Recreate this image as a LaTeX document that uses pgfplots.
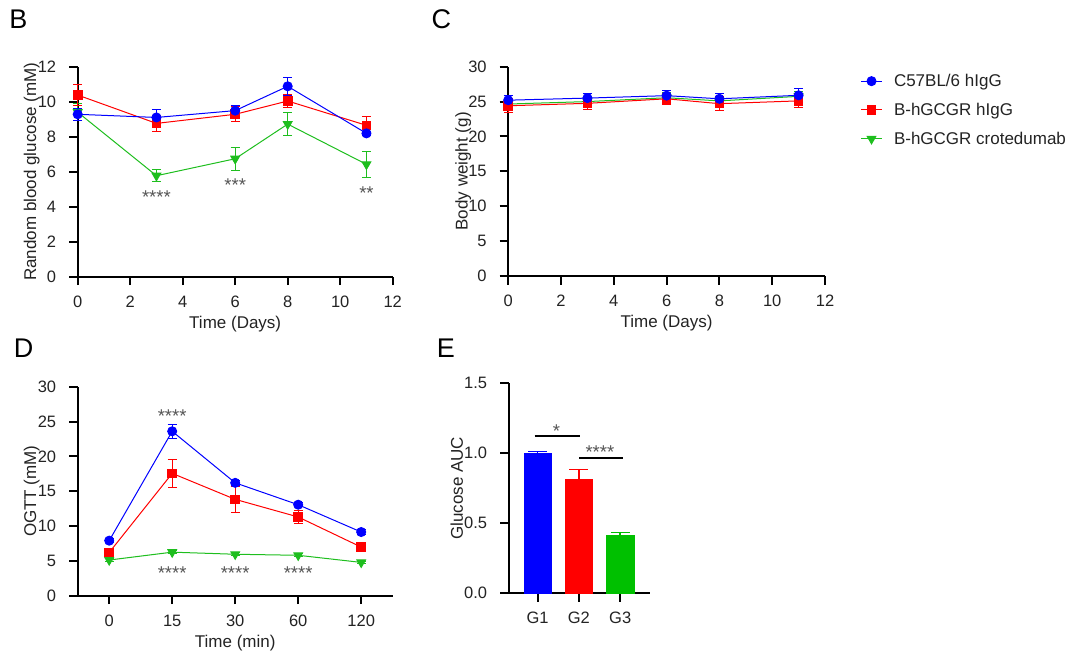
\documentclass[border=0pt]{standalone}
\usepackage{fontspec}
\setmainfont{Liberation Sans}
\usepackage{pgfplots}
\pgfplotsset{compat=1.18}
\definecolor{cblue}{RGB}{0,0,255}
\definecolor{cred}{RGB}{255,0,0}
\definecolor{cgreen}{RGB}{30,190,30}
\definecolor{cbar}{RGB}{0,192,0}
\definecolor{txt}{RGB}{35,35,35}
\definecolor{star}{RGB}{85,85,85}
\tikzset{stars/.style={font=\fontsize{18.5}{21}\selectfont, text=star, yshift=-4pt}}
\pgfplotsset{
  gp/.style={
    scale only axis,
    anchor=south west,
    axis lines*=left,
    axis line style={line width=2pt,black},
    tick align=outside,
    major tick length=8.5pt,
    tick style={line width=2pt,black},
    minor tick num=0,
    clip=false,
    ticklabel style={font=\fontsize{16.5}{19}\selectfont, text=txt},
    xticklabel style={yshift=-7pt},
    yticklabel style={xshift=-9.5pt},
    label style={font=\fontsize{17}{20}\selectfont, text=txt},
    /pgf/number format/assume math mode=true,
    xlabel style={at={(axis description cs:0.5,0)},anchor=center,yshift=-47pt},
  },
  sblue/.style={color=cblue, line width=1pt, mark=*, mark size=4.5pt, mark options={solid,fill=cblue,draw=cblue},
    error bars/.cd, y dir=both, y explicit, error bar style={cblue,line width=1pt}, error mark options={cblue,line width=1pt,mark size=4.5pt,rotate=90}},
  sred/.style={color=cred, line width=1pt, mark=square*, mark size=4.3pt, mark options={solid,fill=cred,draw=cred},
    error bars/.cd, y dir=both, y explicit, error bar style={cred,line width=1pt}, error mark options={cred,line width=1pt,mark size=4.5pt,rotate=90}},
  sgreen/.style={color=cgreen, line width=1pt, mark=triangle*, mark size=5pt, mark options={solid,fill=cgreen,draw=cgreen,rotate=180},
    error bars/.cd, y dir=both, y explicit, error bar style={cgreen,line width=1pt}, error mark options={cgreen,line width=1pt,mark size=4.5pt,rotate=90}},
}
\begin{document}
\begin{tikzpicture}
\path[use as bounding box] (0pt,0pt) rectangle (1082pt,657pt);

% Panel letters
\node[font=\fontsize{27}{30}\selectfont] at (18.3pt,637.3pt) {B};
\node[font=\fontsize{27}{30}\selectfont] at (441.4pt,637.3pt) {C};
\node[font=\fontsize{27}{30}\selectfont] at (23.7pt,308.7pt) {D};
\node[font=\fontsize{27}{30}\selectfont] at (445.8pt,308.7pt) {E};

% ---------------- B
\begin{axis}[gp, at={(77.7pt,380.3pt)}, width=315pt, height=210pt,
  xmin=0, xmax=12, ymin=0, ymax=12,
  xtick={0,2,...,12}, ytick={0,2,...,12},
  xlabel={Time (Days)}, ylabel={Random blood glucose (mM)},
  ylabel style={at={(axis description cs:0,0.5)},anchor=center,yshift=46pt}]
\addplot[sgreen] coordinates {(0,9.4) +- (0,0.5) (3,5.77) +- (0,0.33) (6,6.74) +- (0,0.65) (8,8.72) +- (0,0.68) (11,6.42) +- (0,0.74)};
\addplot[sred] coordinates {(0,10.38) +- (0,0.6) (3,8.76) +- (0,0.47) (6,9.28) +- (0,0.42) (8,10.04) +- (0,0.35) (11,8.65) +- (0,0.5)};
\addplot[sblue] coordinates {(0,9.28) +- (0,0.35) (3,9.1) +- (0,0.48) (6,9.49) +- (0,0.28) (8,10.88) +- (0,0.5) (11,8.19) +- (0,0.12)};
\node[stars] at (axis cs:3,4.76) {****};
\node[stars] at (axis cs:6,5.47) {***};
\node[stars] at (axis cs:11,4.99) {**};
\end{axis}

% ---------------- C
\begin{axis}[gp, at={(508.2pt,381pt)}, width=316.8pt, height=209.3pt,
  xmin=0, xmax=12, ymin=0, ymax=30,
  xtick={0,2,...,12}, ytick={0,5,...,30},
  xlabel={Time (Days)}, ylabel={Body weight (g)},
  ylabel style={at={(axis description cs:0,0.5)},anchor=center,yshift=45pt},
  reverse legend,
  legend image code/.code={\draw[mark repeat=2,mark phase=2] plot coordinates {(0pt,0pt) (10.5pt,0pt) (21pt,0pt)}; \path (30.5pt,0pt);},
  legend style={at={(1.102,0.984)}, anchor=north west, draw=none, fill=none,
    font=\fontsize{17}{20}\selectfont, row sep=11pt, text=txt},
  legend cell align=left]
\addplot[sgreen] coordinates {(0,24.65) +- (0,0.7) (3,25.0) +- (0,0.7) (6,25.55) +- (0,0.7) (8,25.1) +- (0,0.7) (11,25.75) +- (0,0.7)};
\addlegendentry{B-hGCGR crotedumab}
\addplot[sred] coordinates {(0,24.4) +- (0,1.0) (3,24.75) +- (0,0.9) (6,25.4) +- (0,0.8) (8,24.7) +- (0,1.0) (11,25.1) +- (0,1.0)};
\addlegendentry{B-hGCGR hIgG}
\addplot[sblue] coordinates {(0,25.2) +- (0,0.7) (3,25.5) +- (0,0.7) (6,25.85) +- (0,0.7) (8,25.4) +- (0,0.7) (11,25.9) +- (0,1.0)};
\addlegendentry{C57BL/6 hIgG}
\end{axis}

% ---------------- D
\begin{axis}[gp, at={(77.7pt,61.3pt)}, width=315pt, height=209pt,
  xmin=-0.5, xmax=4.5, ymin=0, ymax=30,
  xtick={0,1,2,3,4}, xticklabels={0,15,30,60,120}, ytick={0,5,...,30},
  xlabel={Time (min)}, ylabel={OGTT (mM)},
  xlabel style={yshift=-0.5pt},
  ylabel style={at={(axis description cs:0,0.5)},anchor=center,yshift=46pt}]
\addplot[sgreen] coordinates {(0,5.12) +- (0,0.2) (1,6.25) +- (0,0.2) (2,5.95) +- (0,0.2) (3,5.8) +- (0,0.2) (4,4.78) +- (0,0.2)};
\addplot[sred] coordinates {(0,6.2) +- (0,0.4) (1,17.56) +- (0,2.0) (2,13.83) +- (0,1.9) (3,11.3) +- (0,0.9) (4,6.98) +- (0,0.3)};
\addplot[sblue] coordinates {(0,7.9) +- (0,0.3) (1,23.6) +- (0,1.0) (2,16.2) +- (0,0.4) (3,13.06) +- (0,0.3) (4,9.14) +- (0,0.3)};
\node[stars] at (axis cs:1,26.4) {****};
\node[stars] at (axis cs:1,3.88) {****};
\node[stars] at (axis cs:2,3.88) {****};
\node[stars] at (axis cs:3,3.88) {****};
\end{axis}

% ---------------- E
\begin{axis}[gp, at={(508.7pt,63.7pt)}, width=141.6pt, height=210pt,
  xmin=-0.70, xmax=2.73, ymin=0, ymax=1.5,
  xtick={0,1,2}, xticklabels={G1,G2,G3}, ytick={0,0.5,1,1.5},
  yticklabel style={/pgf/number format/fixed, /pgf/number format/fixed zerofill, /pgf/number format/precision=1},
  ylabel={Glucose AUC},
  ylabel style={at={(axis description cs:0,0.5)},anchor=center,yshift=52pt}]
\addplot[ybar, bar width=27.4pt, bar shift=0pt, fill=cblue, draw=cblue,
  error bars/.cd, y dir=plus, y explicit, error bar style={cblue,line width=1.5pt}, error mark options={cblue,line width=1.5pt,mark size=9.5pt,rotate=90}]
  coordinates {(0,1.0) +- (0,0.012)};
\addplot[ybar, bar width=27.4pt, bar shift=0pt, fill=cred, draw=cred,
  error bars/.cd, y dir=plus, y explicit, error bar style={cred,line width=1.5pt}, error mark options={cred,line width=1.5pt,mark size=9.5pt,rotate=90}]
  coordinates {(1,0.812) +- (0,0.071)};
\addplot[ybar, bar width=27.4pt, bar shift=0pt, fill=cbar, draw=cbar,
  error bars/.cd, y dir=plus, y explicit, error bar style={cbar,line width=1.5pt}, error mark options={cbar,line width=1.5pt,mark size=9.5pt,rotate=90}]
  coordinates {(2,0.414) +- (0,0.022)};
\draw[line width=2pt, black] (axis cs:-0.07,1.124) -- (axis cs:1.03,1.124);
\draw[line width=2pt, black] (axis cs:1.01,0.969) -- (axis cs:2.07,0.969);
\node[stars] at (axis cs:0.46,1.19) {*};
\node[stars] at (axis cs:1.51,1.036) {****};
\end{axis}
\end{tikzpicture}
\end{document}
